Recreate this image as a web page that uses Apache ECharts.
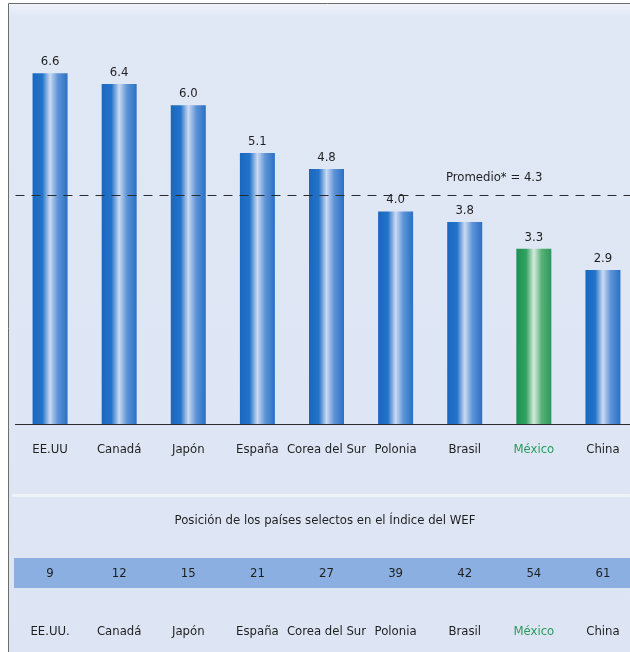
<!DOCTYPE html>
<html>
<head>
<meta charset="utf-8">
<script src="https://cdn.jsdelivr.net/npm/echarts@6/dist/echarts.min.js"></script>
<style>
  html, body { margin: 0; padding: 0; background: #ffffff; overflow: hidden; width: 630px; height: 652px; }
  #chart { width: 645px; height: 652px; }
</style>
</head>
<body>
<div id="chart"></div>
<script>
// Países y puntuación en el índice
const countries = ['EE.UU', 'Canadá', 'Japón', 'España', 'Corea del Sur', 'Polonia', 'Brasil', 'México', 'China'];
const scores = [6.6, 6.4, 6.0, 5.1, 4.8, 4.0, 3.8, 3.3, 2.9];
const average = 4.3;

// Posición en el Índice del WEF
const rankCountries = ['EE.UU.', 'Canadá', 'Japón', 'España', 'Corea del Sur', 'Polonia', 'Brasil', 'México', 'China'];
const ranks = [9, 12, 15, 21, 27, 39, 42, 54, 61];
const highlight = 'México';

const FONT = "'Liberation Sans Narrow', 'DejaVu Sans Condensed', 'Roboto', sans-serif";
const TEXT = '#1f1f1f';
const GREEN_TEXT = '#2a9a5e';

function barGradient(c) {
  return new echarts.graphic.LinearGradient(0, 0, 1, 0, [
    { offset: 0, color: c[0] },
    { offset: 0.28, color: c[1] },
    { offset: 0.5, color: c[2] },
    { offset: 0.72, color: c[3] },
    { offset: 1, color: c[4] }
  ]);
}
const blue = barGradient(['#1968c0', '#2373ca', '#cbdaf1', '#5e94d7', '#2a70c4']);
const green = barGradient(['#1c9351', '#31a261', '#d6ecdc', '#59b179', '#2b985a']);

const chart = echarts.init(document.getElementById('chart'), null, { renderer: 'canvas' });

function labelStyle(name) {
  return name === highlight ? 'g' : 'n';
}
const rich = {
  n: { color: TEXT, fontFamily: FONT, fontSize: 13 },
  g: { color: GREEN_TEXT, fontFamily: FONT, fontSize: 13 }
};

chart.setOption({
  animation: false,
  backgroundColor: '#ffffff',
  graphic: [
    // fondo del gráfico
    {
      type: 'rect', z: -10, silent: true,
      shape: { x: 9, y: 4, width: 650, height: 660 },
      style: {
        fill: new echarts.graphic.LinearGradient(0, 0, 0, 1, [
          { offset: 0, color: '#eef2fa' },
          { offset: 0.02, color: '#e0e8f6' },
          { offset: 1, color: '#dde5f4' }
        ])
      }
    },
    // marco superior e izquierdo
    {
      type: 'polyline', z: -8, silent: true,
      shape: { points: [[8.5, 660], [8.5, 3.5], [660, 3.5]] },
      style: { stroke: '#6d6d6d', lineWidth: 1, fill: null }
    },
    // separador del panel inferior
    {
      type: 'rect', z: -9, silent: true,
      shape: { x: 12, y: 494, width: 640, height: 3 },
      style: { fill: '#eef3fb' }
    },
    // banda de posiciones
    {
      type: 'rect', z: -9, silent: true,
      shape: { x: 14, y: 558, width: 640, height: 30 },
      style: { fill: '#8aafe0' }
    },
    {
      type: 'text', z: 5, silent: true,
      x: 325, y: 521,
      style: {
        text: 'Posición de los países selectos en el Índice del WEF',
        x: 0, y: 0,
        fill: TEXT, font: '13px ' + FONT,
        textAlign: 'center', textVerticalAlign: 'middle'
      }
    }
  ],
  grid: { left: 15.5, top: 52, width: 622, bottom: 228, containLabel: false },
  xAxis: [
    {
      type: 'category', data: countries, position: 'bottom',
      axisLine: { lineStyle: { color: '#2b2b2b', width: 1.2 } },
      axisTick: { show: false },
      axisLabel: {
        margin: 19, interval: 0,
        formatter: v => '{' + labelStyle(v) + '|' + v + '}',
        rich: rich
      }
    },
    {
      type: 'category', data: ranks.map(String), position: 'bottom', offset: 150,
      axisLine: { show: false }, axisTick: { show: false },
      axisLabel: {
        margin: 0, interval: 0, verticalAlign: 'middle',
        color: TEXT, fontFamily: FONT, fontSize: 13
      }
    },
    {
      type: 'category', data: rankCountries, position: 'bottom', offset: 208,
      axisLine: { show: false }, axisTick: { show: false },
      axisLabel: {
        margin: 0, interval: 0, verticalAlign: 'middle',
        formatter: v => '{' + labelStyle(v) + '|' + v + '}',
        rich: rich
      }
    }
  ],
  yAxis: {
    type: 'value', min: 0, max: 7, show: false,
    splitLine: { show: false }
  },
  series: [{
    type: 'bar',
    xAxisIndex: 0,
    barWidth: 35,
    data: scores.map((v, i) => ({
      value: v,
      itemStyle: { color: countries[i] === highlight ? green : blue }
    })),
    label: {
      show: true, position: 'top', distance: 5,
      color: TEXT, fontFamily: FONT, fontSize: 13,
      formatter: p => p.value.toFixed(1)
    },
    markLine: {
      silent: true, symbol: 'none',
      lineStyle: { color: '#2b2b2b', type: [9, 7], width: 1.2 },
      label: {
        show: true, position: 'insideEndTop',
        formatter: 'Promedio* = ' + average.toFixed(1),
        color: TEXT, fontFamily: FONT, fontSize: 13,
        padding: [0, 90, 6, 0]
      },
      data: [{ yAxis: average }]
    }
  }]
});
</script>
</body>
</html>
